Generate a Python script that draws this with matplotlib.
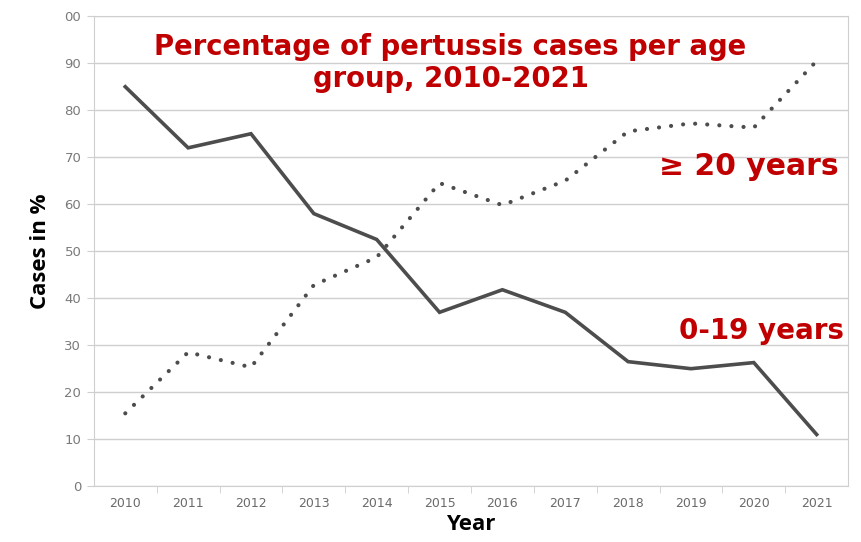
import matplotlib.pyplot as plt

years = ['2010', '2011', '2012', '2013', '2014', '2015', '2016', '2017', '2018', '2019', '2020', '2021']
young = [85, 72, 75, 58, 52.5, 37, 41.8, 37, 26.5, 25, 26.3, 11]
adult = [15.5, 28.5, 25.3, 42.8, 48.7, 64.5, 59.8, 65, 75.5, 77.2, 76.3, 90.5]
ytick_labels = ['0', '10', '20', '30', '40', '50', '60', '70', '80', '90', '00']

red = '#c00000'
line_col = '#4d4d4d'
grid_col = '#cfcfcf'

fig = plt.figure(figsize=(8.61, 5.42), dpi=100)
ax = fig.add_axes([0.109, 0.103, 0.876, 0.867])

x = list(range(len(years)))
ax.plot(x, young, color=line_col, lw=2.6, solid_joinstyle='miter')
ax.plot(x, adult, color=line_col, lw=3, linestyle=(0, (0.01, 2.9)), dash_capstyle='round')

ax.set_xlim(-0.5, len(years) - 0.5)
ax.set_ylim(0, 100)
ax.set_yticks(range(0, 101, 10))
ax.set_yticklabels(ytick_labels)
ax.set_xticks(x)
ax.set_xticklabels(years)
ax.set_xticks([i + 0.5 for i in x[:-1]], minor=True)
ax.tick_params(axis='x', which='major', length=0, pad=8, labelsize=9, labelcolor='#6a6a6a')
ax.tick_params(axis='x', which='minor', length=5, color=grid_col)
ax.tick_params(axis='y', length=5, color=grid_col, labelsize=9.5, labelcolor='#7a7a7a', pad=4)
ax.grid(axis='y', color=grid_col, lw=1)
ax.set_axisbelow(True)
for s in ax.spines.values():
    s.set_color(grid_col)

ax.set_ylabel('Cases in %', fontsize=16, fontweight='bold', family='Open Sans', labelpad=10)
ax.set_xlabel('Year', fontsize=16, fontweight='bold', family='Open Sans', labelpad=3)

ax.text(0.473, 0.965, 'Percentage of pertussis cases per age\ngroup, 2010-2021', transform=ax.transAxes,
        ha='center', va='top', fontsize=19.8, fontweight='bold', color=red, family='DejaVu Sans',
        linespacing=1.2)
ax.text(0.987, 0.68, '\u2265 20 years', transform=ax.transAxes, ha='right', va='center',
        fontsize=21.5, fontweight='bold', color=red, family='DejaVu Sans')
ax.text(0.995, 0.33, '0-19 years', transform=ax.transAxes, ha='right', va='center',
        fontsize=20, fontweight='bold', color=red, family='DejaVu Sans')

fig.savefig('out.png', dpi=100, facecolor='white')
